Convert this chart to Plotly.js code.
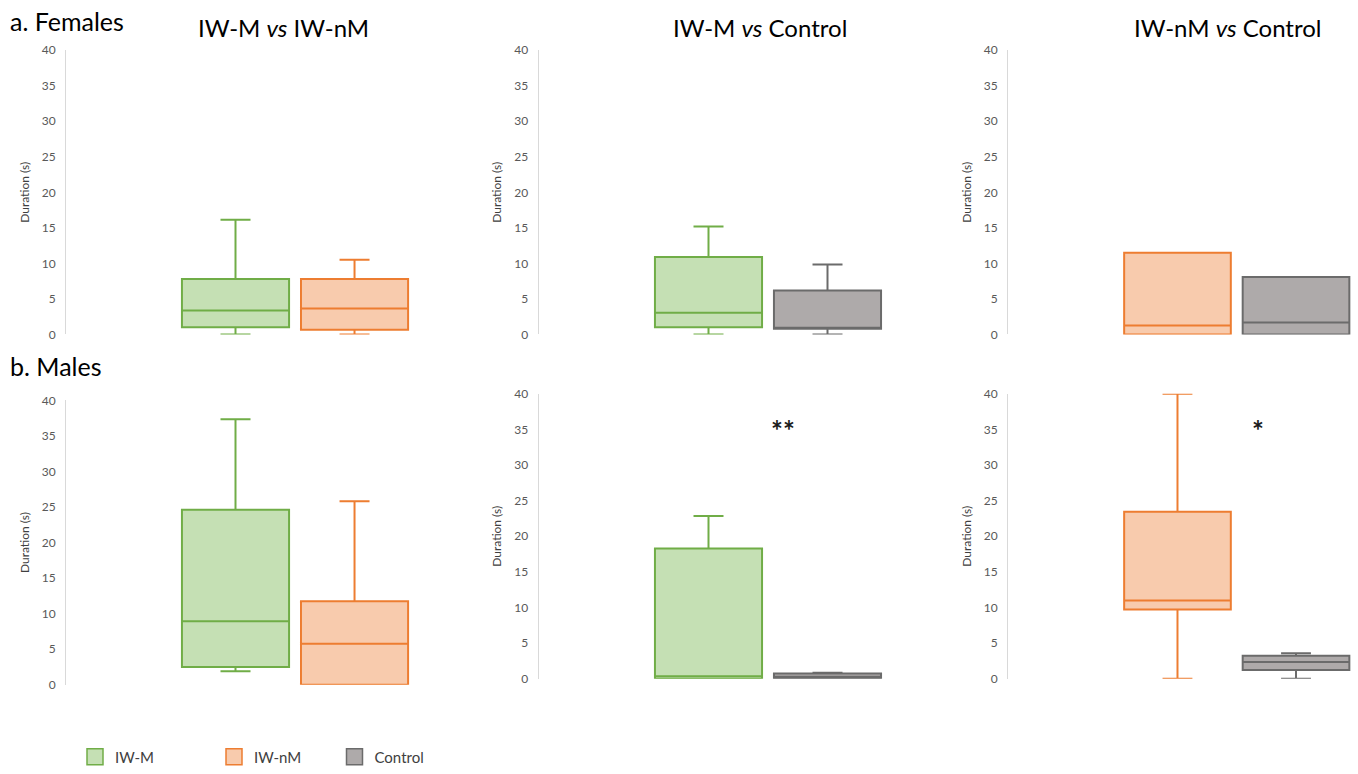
<!DOCTYPE html>
<html>
<head>
<meta charset="utf-8">
<script src="https://cdn.plot.ly/plotly-3.0.1.min.js"></script>
<style>
  html, body { margin: 0; padding: 0; background: #ffffff; overflow: hidden; }
  #chart { width: 1358px; height: 774px; }
</style>
</head>
<body>
<div id="chart"></div>
<script>
// ---- Data ----
const groups = ['IW-M', 'IW-nM', 'Control'];
const panelTitles = ['IW-M <i>vs</i> IW-nM', 'IW-M <i>vs</i> Control', 'IW-nM <i>vs</i> Control'];
const panelPairs = [['IW-M', 'IW-nM'], ['IW-M', 'Control'], ['IW-nM', 'Control']];
const sexLabels = ['a. Females', 'b. Males'];
const yTicks = [0, 5, 10, 15, 20, 25, 30, 35, 40];

// box statistics, ordered panel by panel (two boxes per panel)
const femLower  = [0,    0,    0,    0,    0,    0];
const femQ1     = [1.0,  0.65, 1.0,  0.8,  0,    0];
const femMedian = [3.38, 3.66, 3.06, 0.8,  1.25, 1.67];
const femQ3     = [7.8,  7.8,  10.9, 6.2,  11.5, 8.1];
const femUpper  = [16.15,10.5, 15.2, 9.85, 11.5, 8.1];

const maleLower  = [1.9,  0,     0,     0,    0,     0];
const maleQ1     = [2.5,  0,     0,     0.05, 9.73,  1.25];
const maleMedian = [8.92, 5.76,  0.37,  0.3,  11.0,  2.37];
const maleQ3     = [24.6, 11.75, 18.3,  0.75, 23.45, 3.25];
const maleUpper  = [37.35,25.8,  22.85, 0.85, 40,    3.6];

const sigLabels = ['', '**', '*'];   // significance marks for males panels

// ---- Styles ----
const lineColors = {'IW-M': '#70ad47', 'IW-nM': '#ed7d31', 'Control': '#6b6b6b'};
const fillColors = {'IW-M': '#c5e0b4', 'IW-nM': '#f8cbad', 'Control': '#aeaaaa'};
const legendIds  = {'IW-M': 'legend', 'IW-nM': 'legend2', 'Control': 'legend3'};
const FONT = 'Lato, "Open sans", sans-serif';
const W = 1358, H = 774;
const px = v => v / W;
const py = v => (H - v) / H;

// panel pixel geometry
const xDomains = [[66, 420], [538.5, 892], [1008, 1358]];
const xRanges  = [[-1.424, 1.55], [-1.4286, 1.542], [-1.430, 1.523]];
const yDomainsPx = [[[50.7, 337.5], [50.7, 337.5], [50.7, 337.5]],
                    [[404, 691], [397.3, 685], [397.3, 685]]];

const stats = [
  [femLower, femQ1, femMedian, femQ3, femUpper],
  [maleLower, maleQ1, maleMedian, maleQ3, maleUpper]
];

const traces = [];
const layout = {
  width: W, height: H,
  autosize: false,
  margin: {l: 0, r: 0, t: 0, b: 0, pad: 0},
  paper_bgcolor: '#ffffff',
  plot_bgcolor: 'rgba(0,0,0,0)',
  font: {family: FONT, color: '#404040'},
  boxmode: 'overlay',
  boxgap: 0.1,
  boxgroupgap: 0,
  annotations: [],
  showlegend: true
};

for (let s = 0; s < 2; s++) {
  for (let p = 0; p < 3; p++) {
    const n = s * 3 + p + 1;
    const xk = n === 1 ? 'x' : 'x' + n;
    const yk = n === 1 ? 'y' : 'y' + n;
    const xaName = n === 1 ? 'xaxis' : 'xaxis' + n;
    const yaName = n === 1 ? 'yaxis' : 'yaxis' + n;
    const [lo, q1, med, q3, up] = stats[s];
    for (let b = 0; b < 2; b++) {
      const i = p * 2 + b;
      const g = panelPairs[p][b];
      traces.push({
        type: 'box',
        name: g,
        x: [g],
        lowerfence: [lo[i]], q1: [q1[i]], median: [med[i]], q3: [q3[i]], upperfence: [up[i]],
        xaxis: xk, yaxis: yk,
        fillcolor: fillColors[g],
        line: {color: lineColors[g], width: 2},
        whiskerwidth: 0.28,
        boxpoints: false,
        legendgroup: g,
        showlegend: false,
        hoverinfo: 'skip'
      });
    }
    const yd = yDomainsPx[s][p];
    layout[xaName] = {
      domain: [px(xDomains[p][0]), px(xDomains[p][1])],
      range: xRanges[p],
      anchor: yk,
      type: 'category',
      categoryorder: 'array',
      categoryarray: panelPairs[p],
      showline: false, showgrid: false, zeroline: false,
      showticklabels: false, ticks: '',
      fixedrange: true
    };
    layout[yaName] = {
      domain: [py(yd[1]), py(yd[0])],
      range: [0, 40],
      tickvals: yTicks,
      anchor: xk,
      showline: true, linecolor: '#d9d9d9', linewidth: 1,
      showgrid: false, zeroline: false,
      ticks: '',
      ticklabelstandoff: 7,
      tickfont: {family: FONT, size: 12, color: '#595959'},
      title: {text: 'Duration (s)', standoff: 9, font: {family: FONT, size: 12, color: '#404040'}},
      fixedrange: true
    };
    if (s === 1 && sigLabels[p]) {
      layout.annotations.push({
        text: '<b>' + sigLabels[p] + '</b>',
        xref: 'paper', yref: 'paper',
        x: px(p === 1 ? 783 : 1258), y: py(434),
        xanchor: 'center', yanchor: 'middle',
        showarrow: false,
        font: {family: FONT, size: 28, color: '#1a1a1a'}
      });
    }
  }
}

// legend entries (one per group; square swatches like the reference key)
groups.forEach(g => {
  traces.push({
    type: 'scatter', mode: 'markers', name: g,
    x: [null], y: [null], xaxis: 'x', yaxis: 'y',
    marker: {symbol: 'square', size: 16, color: fillColors[g], line: {color: lineColors[g], width: 1.5}},
    legendgroup: g, legend: legendIds[g], showlegend: true, hoverinfo: 'skip'
  });
});

// panel titles
const titleCenters = [283, 760, 1227];
for (let p = 0; p < 3; p++) {
  layout.annotations.push({
    text: panelTitles[p], xref: 'paper', yref: 'paper',
    x: px(titleCenters[p]), y: py(28), xanchor: 'center', yanchor: 'middle',
    showarrow: false, font: {family: FONT, size: 24, color: '#000000'}
  });
}
// sex labels
const sexY = [21, 369];
for (let s = 0; s < 2; s++) {
  layout.annotations.push({
    text: sexLabels[s], xref: 'paper', yref: 'paper',
    x: px(8), y: py(sexY[s]), xanchor: 'left', yanchor: 'middle',
    showarrow: false, font: {family: FONT, size: 25, color: '#000000'}
  });
}

// three legends placed at the bottom
const legendLeft = [75, 214, 334.5];
['legend', 'legend2', 'legend3'].forEach((lk, k) => {
  layout[lk] = {
    orientation: 'h',
    x: px(legendLeft[k]), xanchor: 'left',
    y: py(764), yanchor: 'middle',
    bgcolor: 'rgba(0,0,0,0)',
    font: {family: FONT, size: 15, color: '#404040'}
  };
});

Plotly.newPlot('chart', traces, layout, {displayModeBar: false, staticPlot: true});
</script>
</body>
</html>
